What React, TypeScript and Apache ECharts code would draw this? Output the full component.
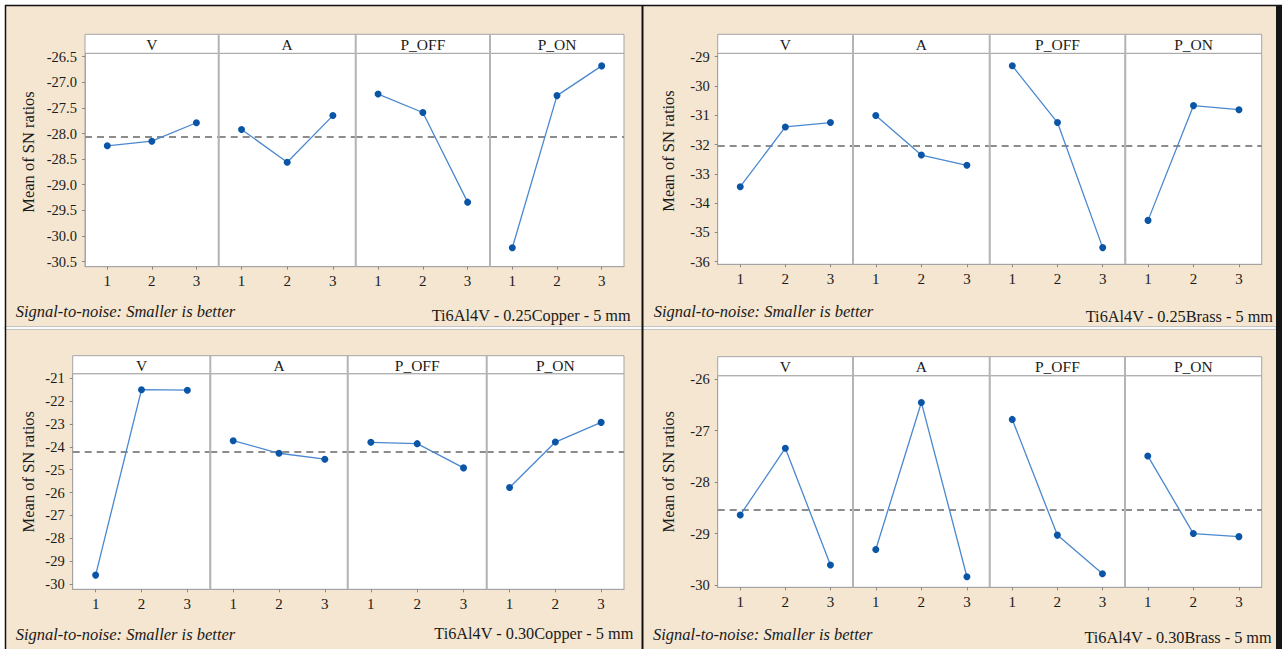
import React, { useEffect, useRef } from "react";
import * as echarts from "echarts";

// ---------- data ----------
const factors = ["V", "A", "P_OFF", "P_ON"];
const levels = ["1", "2", "3"];
const yAxisTitle = "Mean of SN ratios";
const snNote = "Signal-to-noise: Smaller is better";

// Panel 1: Ti6Al4V - 0.25Copper - 5 mm
const cu25Caption = "Ti6Al4V - 0.25Copper - 5 mm";
const cu25V = [-28.24, -28.15, -27.79];
const cu25A = [-27.92, -28.56, -27.65];
const cu25Poff = [-27.23, -27.59, -29.34];
const cu25Pon = [-30.23, -27.26, -26.68];
const cu25Mean = -28.06;
const cu25Ticks = [-30.5, -30.0, -29.5, -29.0, -28.5, -28.0, -27.5, -27.0, -26.5];

// Panel 2: Ti6Al4V - 0.25Brass - 5 mm
const br25Caption = "Ti6Al4V - 0.25Brass - 5 mm";
const br25V = [-33.44, -31.4, -31.25];
const br25A = [-31.01, -32.36, -32.71];
const br25Poff = [-29.31, -31.25, -35.52];
const br25Pon = [-34.59, -30.67, -30.81];
const br25Mean = -32.05;
const br25Ticks = [-36, -35, -34, -33, -32, -31, -30, -29];

// Panel 3: Ti6Al4V - 0.30Copper - 5 mm
const cu30Caption = "Ti6Al4V - 0.30Copper - 5 mm";
const cu30V = [-29.61, -21.5, -21.52];
const cu30A = [-23.73, -24.28, -24.54];
const cu30Poff = [-23.8, -23.86, -24.92];
const cu30Pon = [-25.78, -23.79, -22.93];
const cu30Mean = -24.22;
const cu30Ticks = [-30, -29, -28, -27, -26, -25, -24, -23, -22, -21];

// Panel 4: Ti6Al4V - 0.30Brass - 5 mm
const br30Caption = "Ti6Al4V - 0.30Brass - 5 mm";
const br30V = [-28.64, -27.34, -29.61];
const br30A = [-29.31, -26.45, -29.84];
const br30Poff = [-26.78, -29.03, -29.78];
const br30Pon = [-27.49, -29.0, -29.06];
const br30Mean = -28.53;
const br30Ticks = [-30, -29, -28, -27, -26];

// ---------- layout / style ----------
const BG = "#F4E6D1";
const SERIF = "Liberation Serif";
const TEXT = "#1a1a1a";
const FRAME = "#a4a4a4";
const MARKER = "#0a55a6";
const LINE = "#4a88cf";

type Panel = {
  series: number[][];
  mean: number;
  ticks: number[];
  decimals: number;
  min: number;
  max: number;
  edges: number[];
  top: number;
  head: number;
  bottom: number;
  caption: string;
  ylabX: number;
  ylabY: number;
  noteX: number;
  noteY: number;
  capRight: number;
  capY: number;
};

const panels: Panel[] = [
  {
    series: [cu25V, cu25A, cu25Poff, cu25Pon],
    mean: cu25Mean,
    ticks: cu25Ticks,
    decimals: 1,
    min: -30.6,
    max: -26.434,
    edges: [85, 218.7, 355.7, 490, 624],
    top: 34.3,
    head: 53.3,
    bottom: 266.7,
    caption: cu25Caption,
    ylabX: 28,
    ylabY: 152,
    noteX: 15.7,
    noteY: 311.7,
    capRight: 630.7,
    capY: 315,
  },
  {
    series: [br25V, br25A, br25Poff, br25Pon],
    mean: br25Mean,
    ticks: br25Ticks,
    decimals: 0,
    min: -36.09,
    max: -28.884,
    edges: [717.7, 853, 989.7, 1125.3, 1261.7],
    top: 34.3,
    head: 53.3,
    bottom: 264.3,
    caption: br25Caption,
    ylabX: 668.7,
    ylabY: 151,
    noteX: 653.7,
    noteY: 311.7,
    capRight: 1273,
    capY: 316.7,
  },
  {
    series: [cu30V, cu30A, cu30Poff, cu30Pon],
    mean: cu30Mean,
    ticks: cu30Ticks,
    decimals: 0,
    min: -30.23,
    max: -20.8,
    edges: [72.7, 210.3, 347.7, 486.7, 624],
    top: 355.7,
    head: 373.7,
    bottom: 589.3,
    caption: cu30Caption,
    ylabX: 28,
    ylabY: 471.7,
    noteX: 15.7,
    noteY: 634.3,
    capRight: 633.3,
    capY: 633.3,
  },
  {
    series: [br30V, br30A, br30Poff, br30Pon],
    mean: br30Mean,
    ticks: br30Ticks,
    decimals: 0,
    min: -30.045,
    max: -25.93,
    edges: [717.7, 853, 989.7, 1125, 1261.7],
    top: 356.7,
    head: 375.7,
    bottom: 587.3,
    caption: br30Caption,
    ylabX: 668.7,
    ylabY: 471.7,
    noteX: 653,
    noteY: 634.3,
    capRight: 1271.7,
    capY: 637.7,
  },
];

function txt(x: number, y: number, text: string, size: number, align: string, extra: any = {}) {
  return {
    type: "text",
    x,
    y,
    z: 7,
    ...extra,
    style: {
      text,
      fill: TEXT,
      fontFamily: SERIF,
      fontSize: size,
      fontStyle: extra.fontStyle || "normal",
      textAlign: align,
      textVerticalAlign: "middle",
    },
  };
}

function buildOption() {
  const grid: any[] = [];
  const xAxis: any[] = [];
  const yAxis: any[] = [];
  const series: any[] = [];
  const graphic: any[] = [];

  // outer frame
  graphic.push({ type: "rect", shape: { x: 0, y: 0, width: 1282, height: 5 }, style: { fill: "#ffffff" }, z: 0 });
  graphic.push({ type: "rect", shape: { x: 0, y: 0, width: 5, height: 649 }, style: { fill: "#ffffff" }, z: 0 });
  graphic.push({ type: "line", shape: { x1: 5, y1: 5.5, x2: 1282, y2: 5.5 }, style: { stroke: "#111", lineWidth: 1.5 }, z: 50 });
  graphic.push({ type: "line", shape: { x1: 5.5, y1: 5, x2: 5.5, y2: 649 }, style: { stroke: "#111", lineWidth: 1.5 }, z: 50 });
  graphic.push({ type: "rect", shape: { x: 5, y: 326.5, width: 1271, height: 3 }, style: { fill: "#fbfbfb", stroke: "#c4c4c4", lineWidth: 1 }, z: 40 });
  graphic.push({ type: "line", shape: { x1: 642.5, y1: 5, x2: 642.5, y2: 649 }, style: { stroke: "#111", lineWidth: 2 }, z: 50 });
  graphic.push({ type: "rect", shape: { x: 1276, y: 5, width: 6, height: 644 }, style: { fill: "#151515" }, z: 50 });

  panels.forEach((p, pi) => {
    const L = p.edges[0];
    const R = p.edges[4];
    // header strip
    graphic.push({
      type: "rect",
      shape: { x: L, y: p.top, width: R - L, height: p.head - p.top },
      style: { fill: "#ffffff", stroke: FRAME, lineWidth: 1 },
      z: 5,
    });
    // dividers
    for (let i = 1; i < 4; i++) {
      graphic.push({
        type: "line",
        shape: { x1: p.edges[i], y1: p.top, x2: p.edges[i], y2: p.bottom },
        style: { stroke: "#b4b4b4", lineWidth: 2 },
        z: 6,
      });
    }
    // strip titles
    factors.forEach((f, i) => {
      graphic.push(txt((p.edges[i] + p.edges[i + 1]) / 2, (p.top + p.head) / 2 + 0.5, f, 15.5, "center"));
    });
    // y-axis title
    graphic.push(txt(p.ylabX, p.ylabY, yAxisTitle, 16.5, "center", { rotation: Math.PI / 2 }));
    // notes
    graphic.push(txt(p.noteX, p.noteY, snNote, 16.5, "left", { fontStyle: "italic" }));
    graphic.push(txt(p.capRight, p.capY, p.caption, 16.3, "right"));

    p.series.forEach((vals, i) => {
      const k = pi * 4 + i;
      const first = i === 0;
      grid.push({
        left: p.edges[i],
        top: p.head,
        width: p.edges[i + 1] - p.edges[i],
        height: p.bottom - p.head,
        show: true,
        backgroundColor: "#ffffff",
        borderColor: FRAME,
        borderWidth: 1,
        containLabel: false,
        outerBoundsMode: "none",
      });
      xAxis.push({
        type: "category",
        gridIndex: k,
        data: levels,
        boundaryGap: true,
        axisLine: { show: true, lineStyle: { color: FRAME, width: 1 } },
        axisTick: { show: true, alignWithLabel: true, length: 3, lineStyle: { color: "#888" } },
        axisLabel: {
          show: true,
          margin: 7,
          fontFamily: SERIF,
          fontSize: 15,
          color: TEXT,
        },
        splitLine: { show: false },
      });
      yAxis.push({
        type: "value",
        gridIndex: k,
        min: p.min,
        max: p.max,
        axisLine: { show: first, lineStyle: { color: FRAME, width: 1 } },
        axisTick: { show: first, length: 3, customValues: p.ticks, lineStyle: { color: "#888" } },
        axisLabel: {
          show: first,
          customValues: p.ticks,
          margin: 8,
          fontFamily: SERIF,
          fontSize: 14.5,
          color: TEXT,
          formatter: (v: number) => v.toFixed(p.decimals),
        },
        splitLine: { show: false },
      });
      series.push({
        type: "line",
        xAxisIndex: k,
        yAxisIndex: k,
        data: vals,
        symbol: "circle",
        symbolSize: 7,
        itemStyle: { color: MARKER },
        lineStyle: { color: LINE, width: 1.3 },
        z: 3,
        markLine: {
          silent: true,
          symbol: ["none", "none"],
          label: { show: false },
          lineStyle: { type: [7, 5], color: "#8c8c8c", width: 2 },
          data: [{ yAxis: p.mean }],
          z: 2,
        },
      });
    });
  });

  return {
    animation: false,
    backgroundColor: BG,
    textStyle: { fontFamily: SERIF },
    grid,
    xAxis,
    yAxis,
    series,
    graphic,
  };
}

export default function App() {
  const ref = useRef<HTMLDivElement>(null);
  useEffect(() => {
    if (!ref.current) return;
    const chart = echarts.init(ref.current, undefined, { renderer: "svg" });
    chart.setOption(buildOption() as any);
    return () => chart.dispose();
  }, []);
  return (
    <div
      ref={ref}
      style={{ position: "fixed", left: 0, top: 0, width: 1282, height: 649 }}
    />
  );
}
